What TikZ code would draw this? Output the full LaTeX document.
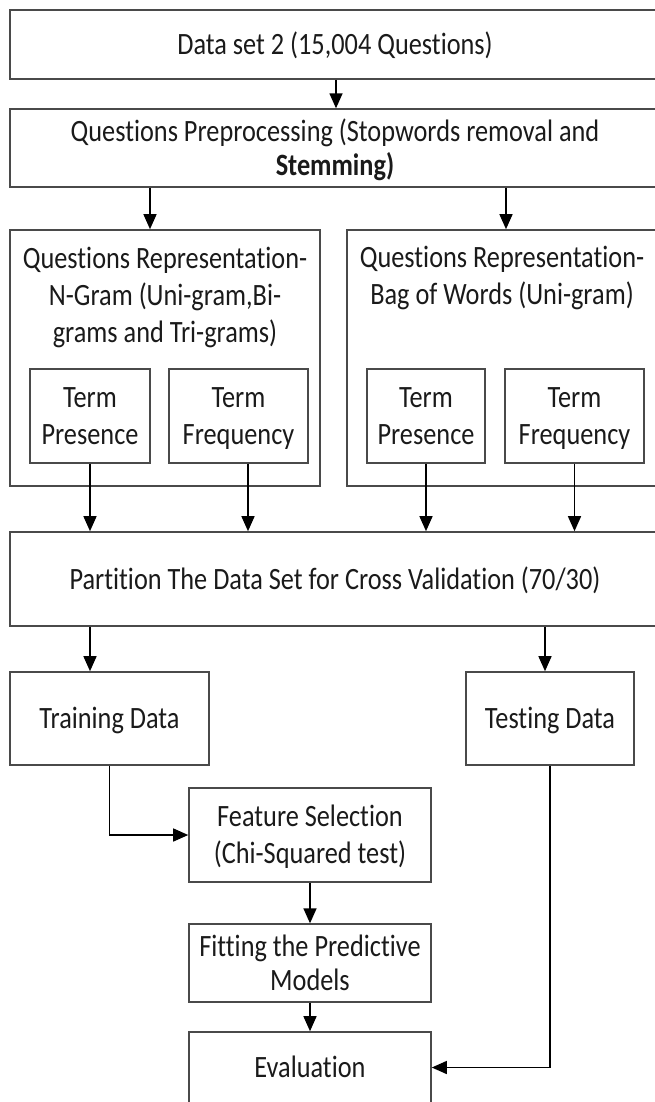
\documentclass[tikz,border=0pt]{standalone}
\usepackage{fontspec}
\usepackage{graphicx}
\setmainfont{Carlito}[Ligatures=NoCommon]
\usetikzlibrary{arrows.meta,calc}
\newcommand{\tx}[1]{\raisebox{0pt}[\dimexpr\height+6pt\relax][\depth]{\scalebox{1}[1.18]{\begin{tabular}{@{}c@{}}#1\end{tabular}}}}
\definecolor{txtc}{HTML}{1A1A1A}
\definecolor{linec}{HTML}{4A4A4A}
\tikzset{
  box/.style={draw=linec, line width=1.6pt, inner sep=0pt, text=txtc, align=center},
  lbl/.style={inner sep=0pt, text=txtc, align=center},
  arr/.style={draw=black, line width=1.4pt, -{Triangle[length=15pt,width=13pt]}},
}
\begin{document}
\begin{tikzpicture}[x=1pt,y=-1pt,font=\fontsize{26.3}{31.4}\selectfont]
\useasboundingbox (0,0) rectangle (654,1102);
% top boxes
\node[box, minimum width=650pt, minimum height=69pt] (d1) at (335,44.5) {\tx{Data set 2 (15,004 Questions)}};
\node[box, minimum width=650pt, minimum height=70pt] (pre) at (335,148) {\tx{Questions Preprocessing (Stopwords removal and\\[-2pt] \textbf{Stemming)}}};
% representation boxes
\node[box, minimum width=310pt, minimum height=256pt] (ng) at (165,358) {};
\node[lbl] (ngt) at (165,295) {\tx{Questions Representation-\\N-Gram (Uni-gram,Bi-\\grams and Tri-grams)}};
\node[box, minimum width=313pt, minimum height=256pt] (bw) at (503.5,358) {};
\node[lbl] (bwt) at (502,276) {\tx{Questions Representation-\\Bag of Words (Uni-gram)}};
\node[box, minimum width=120pt, minimum height=94pt] (tp1) at (90,416) {\tx{Term\\Presence}};
\node[box, minimum width=139pt, minimum height=94pt] (tf1) at (238.5,416) {\tx{Term\\Frequency}};
\node[box, minimum width=118pt, minimum height=94pt] (tp2) at (426,416) {\tx{Term\\Presence}};
\node[box, minimum width=139pt, minimum height=94pt] (tf2) at (574.5,416) {\tx{Term\\Frequency}};
% partition
\node[box, minimum width=650pt, minimum height=94pt] (part) at (335,579) {\tx{Partition The Data Set for Cross Validation (70/30)}};
\node[box, minimum width=199pt, minimum height=93pt] (train) at (109.5,718.5) {\tx{Training Data}};
\node[box, minimum width=168pt, minimum height=93pt] (test) at (550,718.5) {\tx{Testing Data}};
\node[box, minimum width=242pt, minimum height=94pt] (fs) at (310,835) {\tx{Feature Selection\\(Chi-Squared test)}};
\node[box, minimum width=242pt, minimum height=70pt] (fit) at (310,963) {\tx{Fitting the Predictive\\[-2pt]Models}};
\node[box, minimum width=242pt, minimum height=71pt] (ev) at (310,1067.5) {\tx{Evaluation}};
% connectors
\draw[arr] ([xshift=1pt]d1.south) -- ([xshift=1pt]pre.north);
\draw[arr] ([xshift=-15pt]ng.north |- pre.south) -- ([xshift=-15pt]ng.north);
\draw[arr] ([xshift=2.5pt]bw.north |- pre.south) -- ([xshift=2.5pt]bw.north);
\draw[arr] (tp1.south) -- (tp1.south |- part.north);
\draw[arr] ([xshift=9.5pt]tf1.south) -- ([xshift=9.5pt]tf1.south |- part.north);
\draw[arr] (tp2.south) -- (tp2.south |- part.north);
\draw[arr] (tf2.south) -- (tf2.south |- part.north);
\draw[arr] ([xshift=-19.5pt]train.north |- part.south) -- ([xshift=-19.5pt]train.north);
\draw[arr] ([xshift=-5pt]test.north |- part.south) -- ([xshift=-5pt]test.north);
\draw[arr] (train.south) |- (fs.west);
\draw[arr] (fs.south) -- (fit.north);
\draw[arr] (fit.south) -- (ev.north);
\draw[arr] (test.south) |- (ev.east);
\end{tikzpicture}
\end{document}
